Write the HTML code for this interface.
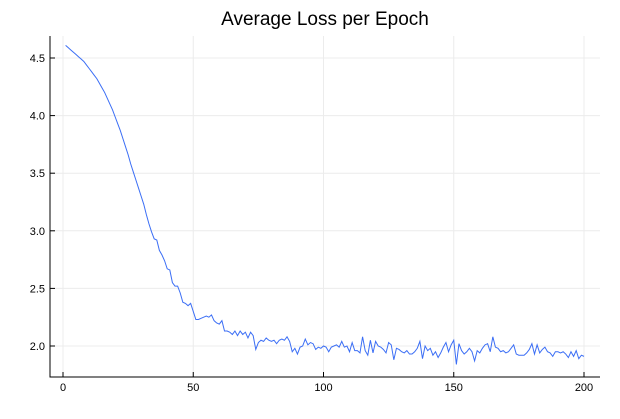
<!DOCTYPE html>
<html><head><meta charset="utf-8"><style>
body{margin:0;background:#fff;font-family:"Liberation Sans",sans-serif}
</style></head><body>
<svg id="c" width="620" height="414" xmlns="http://www.w3.org/2000/svg">
<text x="325" y="25" text-anchor="middle" font-size="19" fill="#000">Average Loss per Epoch</text>
<g id="grid"></g>
<g id="axes"></g>
<path id="line" fill="none" stroke="#3b6ef5" stroke-width="1"/>
</svg>
<script>
const xTicks=[0,50,100,150,200];
const yTicks=[2.0,2.5,3.0,3.5,4.0,4.5];
const yTickLabels=["2.0","2.5","3.0","3.5","4.0","4.5"];
const loss=[4.61,4.59,4.57,4.55,4.53,4.51,4.49,4.47,4.44,4.41,
4.38,4.35,4.32,4.28,4.24,4.20,4.15,4.10,4.05,3.99,
3.93,3.87,3.80,3.73,3.66,3.58,3.51,3.44,3.37,3.30,
3.23,3.14,3.06,2.99,2.93,2.92,2.83,2.79,2.74,2.67,
2.66,2.55,2.52,2.52,2.46,2.38,2.37,2.35,2.37,2.30,
2.23,2.23,2.24,2.25,2.26,2.25,2.27,2.22,2.20,2.19,
2.22,2.13,2.13,2.12,2.10,2.13,2.09,2.13,2.10,2.12,
2.07,2.12,2.09,1.97,2.03,2.05,2.04,2.07,2.05,2.04,
2.05,2.02,2.05,2.06,2.05,2.08,2.04,1.95,1.98,1.93,
1.99,2.00,2.06,2.01,2.03,2.02,1.97,1.99,1.98,2.00,
1.99,1.95,1.99,2.00,2.01,1.99,2.04,1.99,2.00,1.95,
2.03,1.96,1.96,1.94,2.08,1.96,1.92,2.05,1.94,2.04,
2.00,1.99,1.97,1.94,2.03,2.01,1.88,1.98,1.97,1.95,
1.94,1.96,1.93,1.93,1.95,1.98,2.04,1.89,2.00,1.96,
1.98,1.92,1.95,1.90,1.94,1.99,2.03,1.95,2.01,2.05,
1.84,2.02,1.96,1.93,1.95,1.98,1.95,1.87,1.96,1.94,
1.98,2.01,2.02,1.95,2.08,1.99,1.98,1.95,1.96,1.94,
1.95,1.98,2.01,1.93,1.92,1.92,1.92,1.94,1.97,2.02,
1.93,2.01,1.94,1.97,1.99,1.95,1.94,1.91,1.95,1.95,
1.94,1.95,1.93,1.90,1.95,1.91,1.96,1.89,1.92,1.91];
const L=50,R=600,T=36,B=377;
const xs=x=>63+x*2.605;
const ys=v=>346-(v-2)*115.2;
const NS="http://www.w3.org/2000/svg";
function mk(tag,at,parent){const e=document.createElementNS(NS,tag);for(const k in at)e.setAttribute(k,at[k]);parent.appendChild(e);return e;}
const g=document.getElementById('grid'),a=document.getElementById('axes');
xTicks.forEach(t=>{
 const l=mk('line',{x1:xs(t),x2:xs(t),y1:T,y2:B,stroke:'#ececec','stroke-width':1},g);
 
 
 const tk=mk('line',{x1:xs(t),x2:xs(t),y1:B,y2:B-5,stroke:'#000','stroke-width':1},a);
 
 
 const tx=mk('text',{x:xs(t),y:B+14,'text-anchor':'middle','font-size':11,fill:'#000'},a);
 tx.textContent=t;
 
 
});
yTicks.forEach((t,i)=>{
 const l=mk('line',{x1:L,x2:R,y1:ys(t),y2:ys(t),stroke:'#ececec','stroke-width':1},g);
 
 
 const tk=mk('line',{x1:L,x2:L+5,y1:ys(t),y2:ys(t),stroke:'#000','stroke-width':1},a);
 
 
 const tx=mk('text',{x:L-5,y:ys(t)+4,'text-anchor':'end','font-size':11,fill:'#000'},a);
 tx.textContent=yTickLabels[i];
 
 
});
const ax=mk('path',{d:`M${L},${T}V${B}H${R}`,fill:'none',stroke:'#000','stroke-width':1},a);


document.getElementById('line').setAttribute('d',loss.map((v,i)=>(i?'L':'M')+xs(i+1).toFixed(2)+','+ys(v).toFixed(2)).join(''));
</script>
</body></html>
